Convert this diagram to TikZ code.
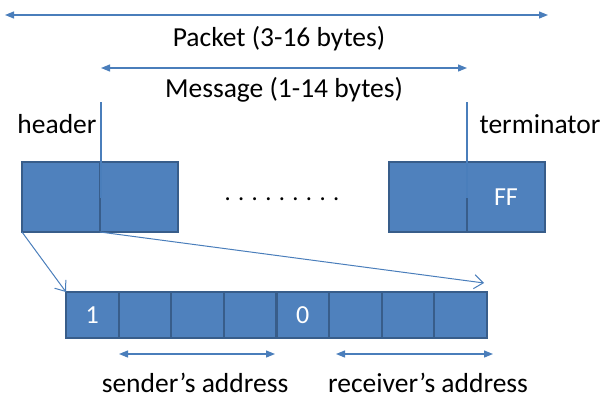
\documentclass[tikz,border=0pt]{standalone}
\usepackage{fontspec}
\setmainfont{Carlito}
\usetikzlibrary{arrows.meta, positioning}
\definecolor{cellblue}{HTML}{4F81BD}
\definecolor{celledge}{HTML}{385D8A}
\definecolor{linkblue}{HTML}{4A7EBB}
\tikzset{
	bigcell/.style={
			rectangle,
			draw=celledge,
			line width=2.6pt,
			fill=cellblue,
			text=white,
			minimum width=78pt,
			minimum height=70pt,
			inner sep=0pt,
			outer sep=0pt,
			font=\fontsize{26}{31}\selectfont
		},
	bytecell/.style={
			bigcell,
			line width=2.2pt,
			minimum width=52.6pt,
			minimum height=46pt
		},
	labeltext/.style={
			inner sep=0pt,
			font=\fontsize{27.5}{33}\selectfont
		},
	spanarrow/.style={
			draw=linkblue,
			line width=1.2pt,
			{Triangle[length=9pt,width=7pt]}-{Triangle[length=9pt,width=7pt]}
		},
	linkarrow/.style={
			draw=linkblue,
			line width=1pt,
			-{Straight Barb[length=9pt,width=14pt]}
		},
	markline/.style={
			draw=linkblue,
			line width=1.6pt
		}
}
\begin{document}
\begin{tikzpicture}[x=1pt, y=-1pt]
\useasboundingbox (0,0) rectangle (604,399);

% packet and message spans
\coordinate (pkL) at (5,15);
\coordinate (pkR) at (548,15);
\draw[spanarrow] (pkL) -- (pkR);
\node[labeltext] (pklbl) at (279,39) {Packet (3-16 bytes)};
\coordinate (msL) at (101,68);
\coordinate (msR) at (467,68);
\draw[spanarrow] (msL) -- (msR);
\node[labeltext] (mslbl) at (284,90) {Message (1-14 bytes)};

% header and terminator bytes
\node[bigcell] (hd1) at (61,197) {};
\node[bigcell, right=0pt of hd1] (hd2) {};
\node[bigcell] (tm1) at (428,197) {};
\node[bigcell, right=0pt of tm1] (tm2) {FF};
\node[labeltext, font=\fontsize{24.5}{29}\selectfont] (dots) at (282,199) {. . . . . . . . .};

\node[labeltext] (hdlbl) at (57,124) {header};
\node[labeltext] (tmlbl) at (540,124) {terminator};
\coordinate (hdtop) at (101,102);
\coordinate (hdend) at (101,198);
\coordinate (tmtop) at (467,102);
\coordinate (tmend) at (467,198);
\draw[markline] (hdtop) -- (hdend);
\draw[markline] (tmtop) -- (tmend);

% expanded header byte
\node[bytecell] (by1) at (92.3,315) {1};
\foreach \i [remember=\i as \j (initially 1)] in {2,...,8} {
	\node[bytecell, right=0pt of by\j] (by\i) {};
}
\node[text=white, font=\fontsize{26}{31}\selectfont] at (by5) {0};

\coordinate (lnk) at (484,283);
\draw[linkarrow] (hd1.south west) -- (by1.north west);
\draw[linkarrow] (hd1.south east) -- (lnk);

% address fields
\coordinate (sdL) at (119,354);
\coordinate (sdR) at (275,354);
\coordinate (rcL) at (336,354);
\coordinate (rcR) at (493,354);
\draw[spanarrow] (sdL) -- (sdR);
\draw[spanarrow] (rcL) -- (rcR);
\node[labeltext] (sdlbl) at (195,383) {sender’s address};
\node[labeltext] (rclbl) at (428,383) {receiver’s address};
\end{tikzpicture}
\end{document}
